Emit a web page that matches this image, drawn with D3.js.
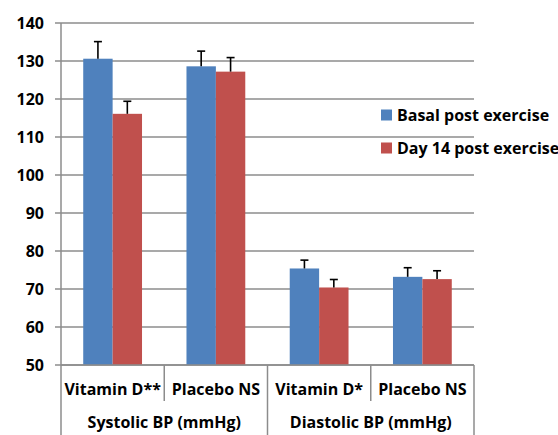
<!DOCTYPE html>
<html><head><meta charset="utf-8">
<script src="https://cdn.jsdelivr.net/npm/d3@7"></script>
<style>body{margin:0;background:#fff;} text{font-family:"Open Sans",Lato,sans-serif;font-weight:bold;fill:#000;}</style>
</head><body>
<svg id="c" width="558" height="435"></svg>
<script>
const categories = ["Vitamin D**","Placebo NS","Vitamin D*","Placebo NS"];
const groups = ["Systolic BP (mmHg)","Diastolic BP (mmHg)"];
const seriesNames = ["Basal post exercise","Day 14 post exercise"];
const basal = [130.6,128.6,75.4,73.2];
const basalErr = [4.5,4.0,2.2,2.4];
const day14 = [116.1,127.2,70.4,72.6];
const day14Err = [3.3,3.7,2.1,2.2];
const yTicks = [50,60,70,80,90,100,110,120,130,140];
const colors = ["#4F81BD","#C0504D"];

const svg = d3.select("#c");
const L=61,R=474,T=23,B=365;
const y = d3.scaleLinear().domain([50,140]).range([B,T]);
const x = d3.scaleBand().domain(d3.range(categories.length)).range([L,R]).paddingInner(0).paddingOuter(0);
const sub = d3.scaleBand().domain([0,1]).range([0,x.bandwidth()]).paddingOuter(0.756).paddingInner(0);
const gray="#8c8c8c";
const fs=16;

// grid
svg.append("g").selectAll("line").data(yTicks).join("line")
 .attr("x1",L-6).attr("x2",R).attr("y1",d=>y(d)).attr("y2",d=>y(d))
 .attr("stroke",gray).attr("stroke-width",1.5);
svg.append("g").selectAll("text").data(yTicks).join("text")
 .attr("x",44).attr("y",d=>y(d)).attr("dy","0.36em").attr("text-anchor","end")
 .attr("font-size",fs).text(d=>d);
// y axis line
svg.append("line").attr("x1",L).attr("x2",L).attr("y1",T).attr("y2",435).attr("stroke",gray).attr("stroke-width",1.5);

const series=[{v:basal,e:basalErr},{v:day14,e:day14Err}];
series.forEach((s,si)=>{
  const g=svg.append("g");
  g.selectAll("rect").data(s.v).join("rect")
   .attr("x",(d,i)=>x(i)+sub(si)).attr("width",sub.bandwidth())
   .attr("y",d=>y(d)).attr("height",d=>B-y(d)).attr("fill",colors[si]);
  const eg=svg.append("g");
  s.v.forEach((d,i)=>{
    const cx=x(i)+sub(si)+sub.bandwidth()/2;
    eg.append("line").attr("x1",cx).attr("x2",cx).attr("y1",y(d)).attr("y2",y(d+s.e[i])).attr("stroke","#000").attr("stroke-width",1.6);
    eg.append("line").attr("x1",cx-4).attr("x2",cx+4).attr("y1",y(d+s.e[i])).attr("y2",y(d+s.e[i])).attr("stroke","#000").attr("stroke-width",1.6);
  });
});

// x axis
svg.append("line").attr("x1",L).attr("x2",R).attr("y1",B).attr("y2",B).attr("stroke",gray).attr("stroke-width",1.5);
categories.forEach((c,i)=>{
  const xe=x(i)+x.bandwidth();
  const full = (i%2===1);
  svg.append("line").attr("x1",xe).attr("x2",xe).attr("y1",B).attr("y2",full?435:401).attr("stroke",gray).attr("stroke-width",1.5);
  svg.append("text").attr("x",x(i)+x.bandwidth()/2).attr("y",389).attr("dy","0.36em").attr("text-anchor","middle").attr("font-size",fs).text(c);
});
groups.forEach((g,gi)=>{
  svg.append("text").attr("x",x(gi*2)+x.bandwidth()).attr("y",422).attr("dy","0.36em").attr("text-anchor","middle").attr("font-size",fs).text(g);
});

// legend
seriesNames.forEach((n,i)=>{
  const ly=115+i*33;
  svg.append("rect").attr("x",381).attr("y",ly-5.5).attr("width",11).attr("height",11).attr("fill",colors[i]);
  svg.append("text").attr("x",397).attr("y",ly).attr("dy","0.36em").attr("font-size",fs).text(n);
});
</script>
</body></html>
